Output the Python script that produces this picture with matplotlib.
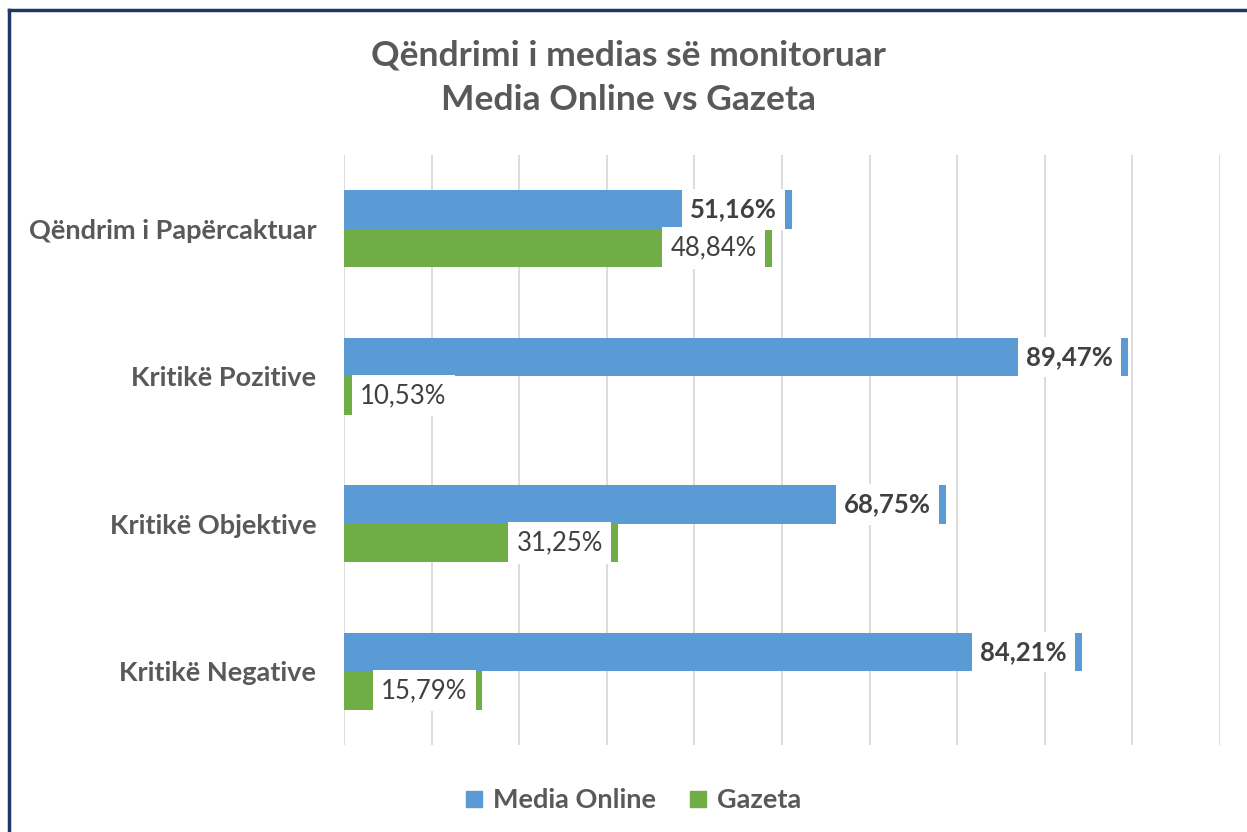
import numpy as np
import matplotlib.pyplot as plt
from matplotlib.lines import Line2D

# Dati del grafico
kategorite = ["Qëndrim i Papërcaktuar", "Kritikë Pozitive", "Kritikë Objektive", "Kritikë Negative"]
media_online = [51.16, 89.47, 68.75, 84.21]
gazeta = [48.84, 10.53, 31.25, 15.79]
seri = ["Media Online", "Gazeta"]

blu = "#5B9BD5"
verde = "#70AD47"
grigio = "#595959"
scuro = "#404040"

plt.rcParams['font.family'] = ['Lato', 'DejaVu Sans']

fig = plt.figure(figsize=(12.47, 8.32), dpi=100)
W, H = 1247, 832
# assi in pixel: x 344..1220, y 155..745
ax = fig.add_axes([344 / W, 1 - 745 / H, (1220 - 344) / W, (745 - 155) / H])

y = np.arange(len(kategorite))
h = 0.26
ax.barh(y - h / 2, media_online, height=h, color=blu, zorder=2)
ax.barh(y + h / 2, gazeta, height=h, color=verde, zorder=2)

ax.set_xlim(0, 100)
ax.set_ylim(len(kategorite) - 0.5, -0.5)
ax.set_xticks(np.arange(0, 101, 10))
ax.set_xticklabels([])
ax.tick_params(axis='x', length=0)
ax.tick_params(axis='y', length=0, pad=20)
ax.grid(axis='x', color='#D9D9D9', linewidth=1.3, zorder=0)
for s in ax.spines.values():
    s.set_visible(False)
ax.set_yticks(y)
ax.set_yticklabels(kategorite, fontsize=19.5, fontweight='bold', color=grigio)

# Etichette con sfondo bianco
def etichetta(v, yy, bold):
    testo = f"{v:.2f}%".replace('.', ',')
    peso = 'bold' if bold else 'normal'
    box = dict(facecolor='white', edgecolor='none', pad=6)
    if v < 12:
        ax.annotate(testo, xy=(0, yy), xytext=(16, 0), textcoords='offset pixels',
                    ha='left', va='center', fontsize=18.5, fontweight=peso, color=scuro,
                    bbox=box, zorder=3)
    else:
        ax.annotate(testo, xy=(v, yy), xytext=(-15, 0), textcoords='offset pixels',
                    ha='right', va='center', fontsize=18.5, fontweight=peso, color=scuro,
                    bbox=box, zorder=3)

for i in range(len(kategorite)):
    etichetta(media_online[i], y[i] - h / 2, True)
    etichetta(gazeta[i], y[i] + h / 2, False)

# Titolo
fig.text(628 / W, 1 - 55 / H, "Qëndrimi i medias së monitoruar", ha='center', va='center',
         fontsize=25.5, fontweight='bold', color=grigio)
fig.text(628 / W, 1 - 100 / H, "Media Online vs Gazeta", ha='center', va='center',
         fontsize=25.5, fontweight='bold', color=grigio)

# Legenda
maniglie = [Line2D([], [], marker='s', linestyle='none', markersize=12, color=c) for c in (blu, verde)]
fig.legend(maniglie, seri, loc='center', bbox_to_anchor=(633 / W, 1 - 800 / H), ncol=2,
           frameon=False, handlelength=0.7, handletextpad=0.35, columnspacing=1.2,
           prop={'size': 19.5, 'weight': 'bold'}, labelcolor=grigio)

# Bordo
fig.add_artist(Line2D([8.5 / W, 8.5 / W], [0, 1 - 9.5 / H], color='#1F3864', linewidth=2.5))
fig.add_artist(Line2D([8.5 / W, 1], [1 - 9.5 / H, 1 - 9.5 / H], color='#1F3864', linewidth=2.5))

fig.savefig("out.png", dpi=100)
